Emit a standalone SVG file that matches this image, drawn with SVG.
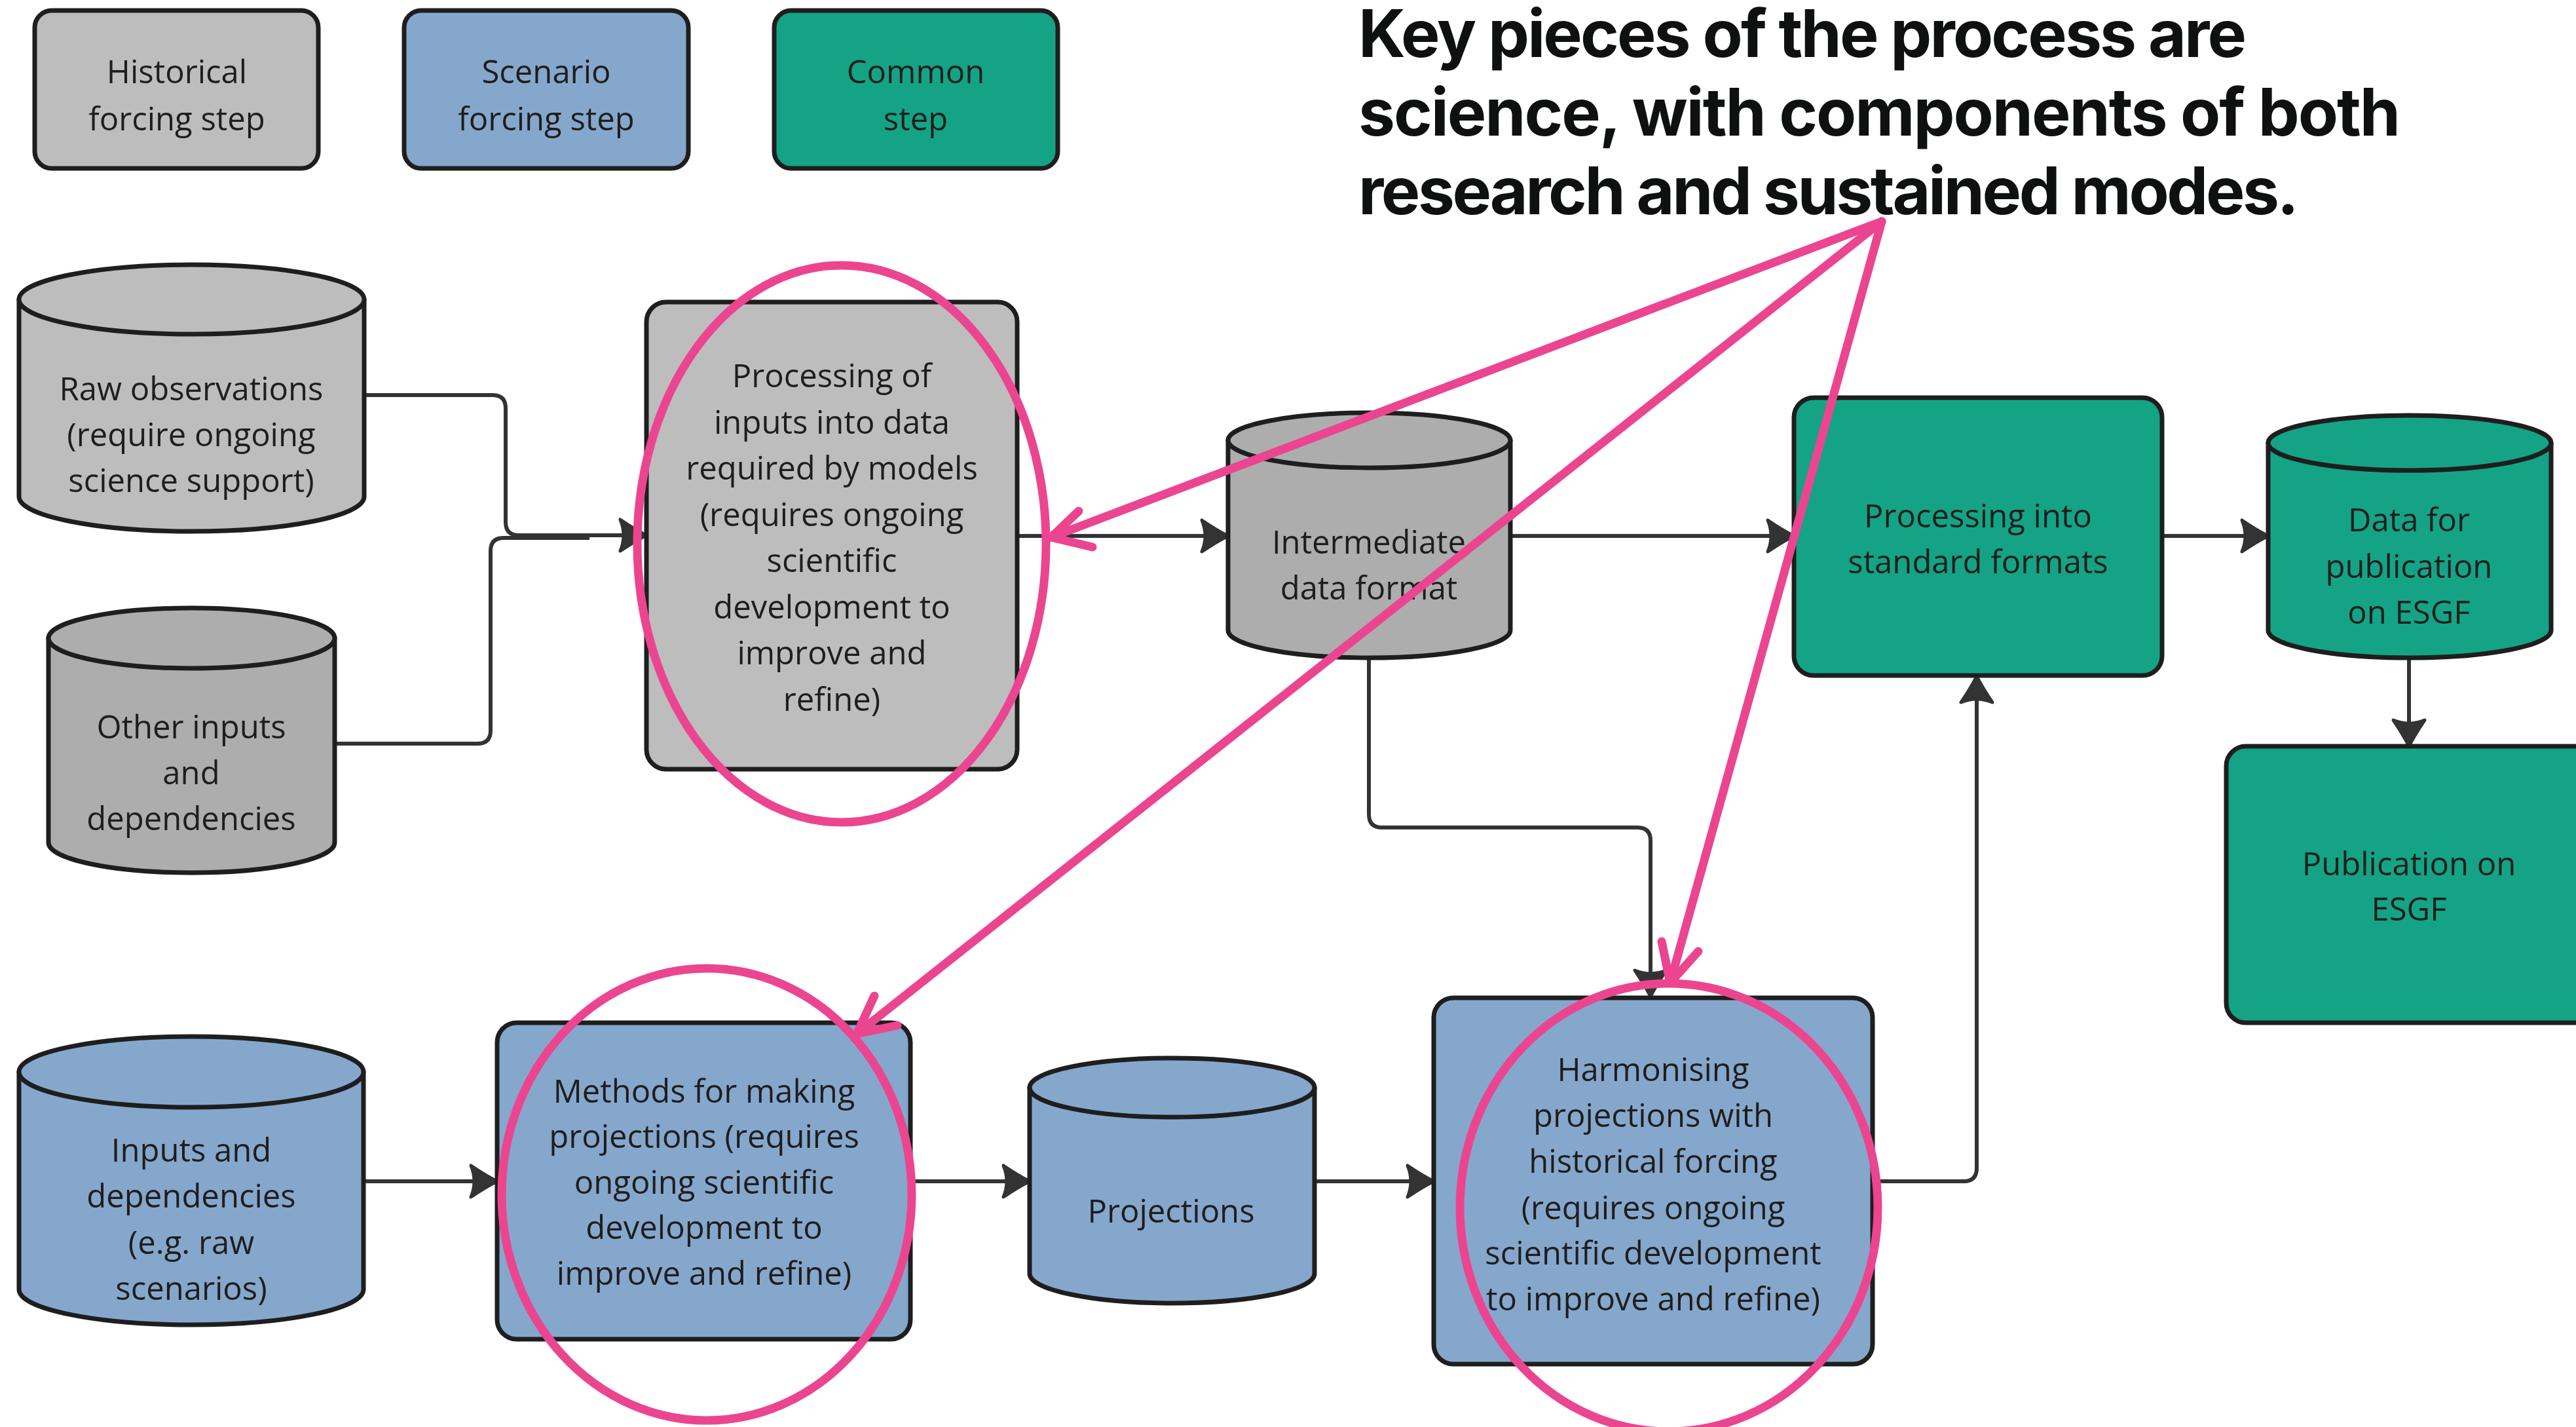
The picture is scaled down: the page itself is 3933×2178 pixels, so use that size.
<svg xmlns="http://www.w3.org/2000/svg" width="3933" height="2178" viewBox="0 0 3933 2178">
  <style>
    .hist { fill: #bdbdbd; }
    .hist2 { fill: #adadad; }
    .scen { fill: #86a7cc; }
    .comm { fill: #14a385; }
    .edge { stroke: #1e1e1e; stroke-width: 7; stroke-linejoin: round; }
    .lbl { font-family: "Open Sans", "Noto Sans", sans-serif; font-size: 49px; fill: #1e1e1e; text-anchor: middle; }
    .conn { fill: none; stroke: #333333; stroke-width: 6; }
    .note { fill: none; stroke: #ec4590; stroke-width: 13; stroke-linecap: round; stroke-linejoin: round; }
    .title { font-family: Inter, "Liberation Sans", sans-serif; font-weight: 700; font-size: 100px; fill: #0f1110; }
  </style>
  <defs>
    <marker id="arrow" markerUnits="userSpaceOnUse" viewBox="-48 -30 54 60" refX="0" refY="0" markerWidth="54" markerHeight="60" orient="auto">
      <path d="M0,0 Q-18,-9 -40,-24 Q-30,0 -40,24 Q-18,9 0,0 Z" fill="#333333" stroke="#333333" stroke-width="5" stroke-linejoin="round"/>
    </marker>
  </defs>

  <rect width="3933" height="2178" fill="#ffffff"/>

  <!-- legend -->
  <g id="legend-historical">
    <rect x="53" y="16" width="433" height="241" rx="26" class="hist edge"/>
    <text class="lbl"><tspan x="270" y="127">Historical</tspan><tspan x="270" y="199">forcing step</tspan></text>
  </g>
  <g id="legend-scenario">
    <rect x="617" y="16" width="434" height="241" rx="26" class="scen edge"/>
    <text class="lbl"><tspan x="834" y="127">Scenario</tspan><tspan x="834" y="199">forcing step</tspan></text>
  </g>
  <g id="legend-common">
    <rect x="1182" y="16" width="433" height="241" rx="26" class="comm edge"/>
    <text class="lbl"><tspan x="1398" y="127">Common</tspan><tspan x="1398" y="199">step</tspan></text>
  </g>

  <!-- connectors -->
  <g id="connectors">
    <path class="conn" d="M556,603 H752 Q772,603 772,623 V797 Q772,817 792,817 H987" marker-end="url(#arrow)"/>
    <path class="conn" d="M511,1135 H729 Q749,1135 749,1115 V841 Q749,821 769,821 H900"/>
    <path class="conn" d="M1553,818 H1875" marker-end="url(#arrow)"/>
    <path class="conn" d="M2306,818 H2739" marker-end="url(#arrow)"/>
    <path class="conn" d="M3301,818 H3463" marker-end="url(#arrow)"/>
    <path class="conn" d="M3678,1004 V1139" marker-end="url(#arrow)"/>
    <path class="conn" d="M2090,1004 V1243 Q2090,1263 2110,1263 H2500 Q2520,1263 2520,1283 V1521" marker-end="url(#arrow)"/>
    <path class="conn" d="M555,1803 H759" marker-end="url(#arrow)"/>
    <path class="conn" d="M1390,1803 H1572" marker-end="url(#arrow)"/>
    <path class="conn" d="M2007,1803 H2189" marker-end="url(#arrow)"/>
    <path class="conn" d="M2859,1803 H2998 Q3018,1803 3018,1783 V1032" marker-end="url(#arrow)"/>
  </g>

  <!-- historical forcing inputs -->
  <g id="raw-observations">
    <path class="hist edge" d="M29,457 V758 A263.5,53 0 0 0 556,758 V457 Z"/>
    <ellipse cx="292.5" cy="457" rx="263.5" ry="53" class="hist edge"/>
    <text class="lbl"><tspan x="292" y="611">Raw observations</tspan><tspan x="292" y="681">(require ongoing</tspan><tspan x="292" y="751">science support)</tspan></text>
  </g>
  <g id="other-inputs">
    <path class="hist2 edge" d="M74,974 V1286 A218.5,46 0 0 0 511,1286 V974 Z"/>
    <ellipse cx="292.5" cy="974" rx="218.5" ry="46" class="hist2 edge"/>
    <text class="lbl"><tspan x="292" y="1127">Other inputs</tspan><tspan x="292" y="1197">and</tspan><tspan x="292" y="1267">dependencies</tspan></text>
  </g>
  <g id="processing-inputs">
    <rect x="987" y="461" width="566" height="713" rx="30" class="hist edge"/>
    <text class="lbl"><tspan x="1270" y="591">Processing of</tspan><tspan x="1270" y="661.5">inputs into data</tspan><tspan x="1270" y="732">required by models</tspan><tspan x="1270" y="802.5">(requires ongoing</tspan><tspan x="1270" y="873">scientific</tspan><tspan x="1270" y="943.5">development to</tspan><tspan x="1270" y="1014">improve and</tspan><tspan x="1270" y="1084.5">refine)</tspan></text>
  </g>
  <g id="intermediate-data">
    <path class="hist2 edge" d="M1875,672 V962 A215.5,42 0 0 0 2306,962 V672 Z"/>
    <ellipse cx="2090.5" cy="672" rx="215.5" ry="42" class="hist2 edge"/>
    <text class="lbl"><tspan x="2090" y="845">Intermediate</tspan><tspan x="2090" y="915">data format</tspan></text>
  </g>

  <!-- common steps -->
  <g id="standard-formats">
    <rect x="2739" y="607" width="562" height="424" rx="30" class="comm edge"/>
    <text class="lbl"><tspan x="3020" y="805">Processing into</tspan><tspan x="3020" y="875">standard formats</tspan></text>
  </g>
  <g id="data-for-publication">
    <path class="comm edge" d="M3463,676 V962 A216,42 0 0 0 3895,962 V676 Z"/>
    <ellipse cx="3679" cy="676" rx="216" ry="42" class="comm edge"/>
    <text class="lbl"><tspan x="3678" y="811">Data for</tspan><tspan x="3678" y="882">publication</tspan><tspan x="3678" y="952">on ESGF</tspan></text>
  </g>
  <g id="publication-esgf">
    <rect x="3399" y="1139" width="570" height="422" rx="30" class="comm edge"/>
    <text class="lbl"><tspan x="3678" y="1336">Publication on</tspan><tspan x="3678" y="1405">ESGF</tspan></text>
  </g>

  <!-- scenario forcing steps -->
  <g id="scenario-inputs">
    <path class="scen edge" d="M29,1636 V1968 A263,54 0 0 0 555,1968 V1636 Z"/>
    <ellipse cx="292" cy="1636" rx="263" ry="54" class="scen edge"/>
    <text class="lbl"><tspan x="292" y="1773">Inputs and</tspan><tspan x="292" y="1843">dependencies</tspan><tspan x="292" y="1914">(e.g. raw</tspan><tspan x="292" y="1984">scenarios)</tspan></text>
  </g>
  <g id="projection-methods">
    <rect x="759" y="1561" width="631" height="483" rx="30" class="scen edge"/>
    <text class="lbl"><tspan x="1075" y="1683">Methods for making</tspan><tspan x="1075" y="1752">projections (requires</tspan><tspan x="1075" y="1822">ongoing scientific</tspan><tspan x="1075" y="1891">development to</tspan><tspan x="1075" y="1961">improve and refine)</tspan></text>
  </g>
  <g id="projections">
    <path class="scen edge" d="M1572,1660 V1944 A217.5,45 0 0 0 2007,1944 V1660 Z"/>
    <ellipse cx="1789.5" cy="1660" rx="217.5" ry="45" class="scen edge"/>
    <text class="lbl"><tspan x="1788" y="1866">Projections</tspan></text>
  </g>
  <g id="harmonising">
    <rect x="2189" y="1523" width="670" height="559" rx="30" class="scen edge"/>
    <text class="lbl"><tspan x="2524" y="1650">Harmonising</tspan><tspan x="2524" y="1720">projections with</tspan><tspan x="2524" y="1790">historical forcing</tspan><tspan x="2524" y="1861">(requires ongoing</tspan><tspan x="2524" y="1930">scientific development</tspan><tspan x="2524" y="2000">to improve and refine)</tspan></text>
  </g>

  <!-- headline -->
  <g id="headline">
    <text class="title" x="2074" y="87" textLength="1356" lengthAdjust="spacing">Key pieces of the process are</text>
    <text class="title" x="2074" y="207" textLength="1591" lengthAdjust="spacing">science, with components of both</text>
    <text class="title" x="2074" y="327" textLength="1436" lengthAdjust="spacing">research and sustained modes.</text>
  </g>

  <!-- highlight rings and pointers -->
  <g id="highlights">
    <ellipse cx="1285" cy="830" rx="312" ry="425" class="note"/>
    <ellipse cx="1079" cy="1823" rx="313" ry="345" class="note"/>
    <ellipse cx="2548" cy="1843" rx="319" ry="342" class="note"/>
    <path class="note" d="M2873,338 L1605,820"/>
    <path class="note" d="M1647,780 L1605,820 L1668,835"/>
    <path class="note" d="M2873,338 L1308,1578"/>
    <path class="note" d="M1335,1520 L1308,1578 L1370,1565"/>
    <path class="note" d="M2873,338 L2550,1500"/>
    <path class="note" d="M2537,1437 L2550,1500 L2593,1452"/>
  </g>
</svg>
